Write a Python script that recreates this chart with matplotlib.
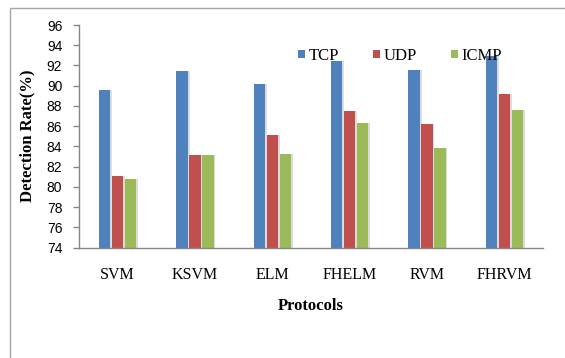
import matplotlib.pyplot as plt
import numpy as np
from matplotlib.patches import Patch, Rectangle

# detection rate per classifier and protocol
models = ["SVM", "KSVM", "ELM", "FHELM", "RVM", "FHRVM"]
tcp = [89.6, 91.5, 90.2, 92.4, 91.6, 92.9]
udp = [81.1, 83.1, 85.1, 87.5, 86.2, 89.2]
icmp = [80.8, 83.1, 83.2, 86.3, 83.8, 87.6]

series = [("TCP", tcp, "#4F81BD"), ("UDP", udp, "#C0504D"), ("ICMP", icmp, "#9BBB59")]

fig = plt.figure(figsize=(5.65, 3.58), dpi=100)
ax = fig.add_axes([79 / 565, 1 - 247.5 / 358, 464 / 565, 222.5 / 358])

x = np.arange(len(models))
w = 0.148
step = 0.167
base = 74
for i, (name, vals, col) in enumerate(series):
    pos = x + (i - 1) * step
    h = np.array(vals) - base
    # soft drop shadow to the right of each bar
    ax.bar(pos + 0.022, h, w, bottom=base, color="#dcdcdc", zorder=1)
    ax.bar(pos, h, w, bottom=base, color=col, zorder=2)

ax.set_xlim(-0.5, len(models) - 0.5)
ax.set_ylim(74, 96)
ax.set_yticks(np.arange(74, 97, 2))
ax.set_xticks(x)
ax.set_xticklabels(models, fontfamily="Liberation Serif", fontsize=11.5)

for t in ax.get_yticklabels():
    t.set_fontfamily("Liberation Sans")
    t.set_fontsize(10)

ax.tick_params(axis="y", length=4, width=1, color="#868686", pad=8)
ax.tick_params(axis="x", length=0, pad=14)

for s in ["top", "right"]:
    ax.spines[s].set_visible(False)
for s in ["left", "bottom"]:
    ax.spines[s].set_color("#868686")
    ax.spines[s].set_linewidth(1)

ax.set_ylabel("Detection Rate(%)", fontfamily="Liberation Serif", fontweight="bold",
              fontsize=12, va="center")
ax.yaxis.set_label_coords(-0.112, 0.5)
ax.set_xlabel("Protocols", fontfamily="Liberation Serif", fontweight="bold",
              fontsize=12, va="center")
ax.xaxis.set_label_coords(0.5, -0.263)

handles = [Patch(facecolor=c, edgecolor="none", label=n) for n, _, c in series]
leg = fig.legend(handles=handles, loc="center left", ncol=3, frameon=False,
                 bbox_to_anchor=(298 / 565, 1 - 56 / 358), bbox_transform=fig.transFigure,
                 borderpad=0, borderaxespad=0, handlelength=0.42, handleheight=0.42,
                 handletextpad=0.25, columnspacing=2.0,
                 prop={"family": "Liberation Serif", "size": 12})
leg.set_zorder(5)

# outer chart border, only its left and top edges fall inside the image
fig.patches.append(Rectangle((10 / 565, -0.2), 1.2, 0.2 + (358 - 7.5) / 358,
                             transform=fig.transFigure, fill=False,
                             edgecolor="#a6a6a6", linewidth=1))

fig.savefig("out.png", dpi=100)
